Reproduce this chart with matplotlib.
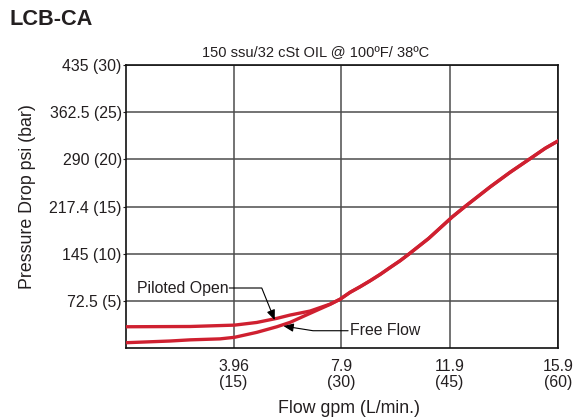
# -*- coding: utf-8 -*-
"""
LCB-CA pressure drop vs flow chart
"""
import numpy as np
import matplotlib
matplotlib.use("Agg")
import matplotlib.pyplot as plt

# =============================================================================
# DATA
# =============================================================================
# low-flow part, "Piloted Open" curve
piloted_flow = [0.0, 2.36, 3.99, 4.81, 5.55, 6.04, 6.77, 7.51, 7.88]
piloted_psi = [33.1, 33.5, 35.6, 39.7, 46.0, 51.1, 57.2, 67.9, 75.5]

# low-flow part, "Free Flow" curve
free_flow = [0.0, 1.62, 2.36, 3.46, 3.99, 4.81, 5.55, 6.04, 6.77, 7.51, 7.88]
free_psi = [8.6, 11.2, 13.0, 14.5, 16.9, 24.5, 33.1, 39.9, 53.7, 67.5, 75.5]

# both curves share the same rising part above ~8 gpm
shared_flow = [7.88, 8.24, 8.61, 8.98, 9.35, 9.72, 10.08, 10.39, 10.82,
               11.13, 12.00, 12.48, 13.40, 14.13, 14.83, 15.42, 15.91]
shared_psi = [75.5, 85.9, 94.5, 103.7, 113.5, 124.2, 134.4, 144.2, 158.4,
              168.6, 201.7, 218.0, 248.0, 270.3, 290.2, 307.1, 318.8]

x_ticks = [3.96, 7.9, 11.9, 15.9]
x_labels = ["3.96\n(15)", "7.9\n(30)", "11.9\n(45)", "15.9\n(60)"]
y_ticks = [72.5, 145, 217.4, 290, 362.5, 435]
y_labels = ["72.5 (5)", "145 (10)", "217.4 (15)", "290 (20)",
            "362.5 (25)", "435 (30)"]

# =============================================================================
# STYLE
# =============================================================================
plt.rcParams['font.family'] = ['Liberation Sans', 'DejaVu Sans']
TEXT = '#231f20'
RED = '#cf2030'
GRID = '#4d4d4d'

fig = plt.figure(figsize=(5.74, 4.19), dpi=100)
ax = fig.add_axes([0.2195, 0.1687, 0.7531, 0.6762])

# --- curves ---
ax.plot(piloted_flow + shared_flow[1:], piloted_psi + shared_psi[1:],
        color=RED, lw=2.4, solid_capstyle='butt', solid_joinstyle='round',
        zorder=3)
ax.plot(free_flow + shared_flow[1:], free_psi + shared_psi[1:],
        color=RED, lw=2.4, solid_capstyle='butt', solid_joinstyle='round',
        zorder=3)

# --- axes, ticks, grid ---
ax.set_xlim(0, 15.9)
ax.set_ylim(0, 435)
ax.set_xticks(x_ticks)
ax.set_xticklabels(x_labels, fontsize=11.4, color=TEXT, linespacing=1.05)
ax.set_yticks(y_ticks)
ax.set_yticklabels(y_labels, fontsize=11.4, color=TEXT)
ax.tick_params(axis='x', length=0, pad=8)
ax.tick_params(axis='y', length=2.5, width=0.8, pad=0.5, color=TEXT)
ax.grid(True, color=GRID, lw=1.1, zorder=1)
for s in ax.spines.values():
    s.set_color('#111111')
    s.set_linewidth(1.2)

ax.set_xlabel('Flow gpm (L/min.)', fontsize=12.8, color=TEXT)
ax.set_ylabel('Pressure Drop psi (bar)', fontsize=12.8, color=TEXT)
ax.xaxis.set_label_coords(0.517, -0.183)
ax.yaxis.set_label_coords(-0.2085, 0.535)

# --- annotations ---
ax.text(3.76, 92.6, 'Piloted Open', fontsize=11.4, color=TEXT,
        ha='right', va='center')
ax.annotate('', xy=(5.47, 43.4), xytext=(3.80, 92.6),
            arrowprops=dict(arrowstyle='-|>,head_length=0.6,head_width=0.25',
                            connectionstyle='angle,angleA=0,angleB=112,rad=0',
                            color='black', lw=0.8, shrinkA=0, shrinkB=0,
                            mutation_scale=10))
ax.text(8.24, 27.0, 'Free Flow', fontsize=11.4, color=TEXT,
        ha='left', va='center')
ax.annotate('', xy=(5.79, 34.2), xytext=(8.17, 27.0),
            arrowprops=dict(arrowstyle='-|>,head_length=0.6,head_width=0.25',
                            connectionstyle='angle,angleA=0,angleB=-9,rad=0',
                            color='black', lw=0.8, shrinkA=0, shrinkB=0,
                            mutation_scale=10))

# --- titles ---
fig.text(0.0157, 0.953, 'LCB-CA', fontsize=15.7, fontweight='bold',
         color=TEXT, ha='left', va='center')
fig.text(0.5505, 0.876, '150 ssu/32 cSt OIL @ 100\u00baF/ 38\u00baC',
         fontsize=10.5, color=TEXT, ha='center', va='center')

plt.savefig('out.png', dpi=100)
